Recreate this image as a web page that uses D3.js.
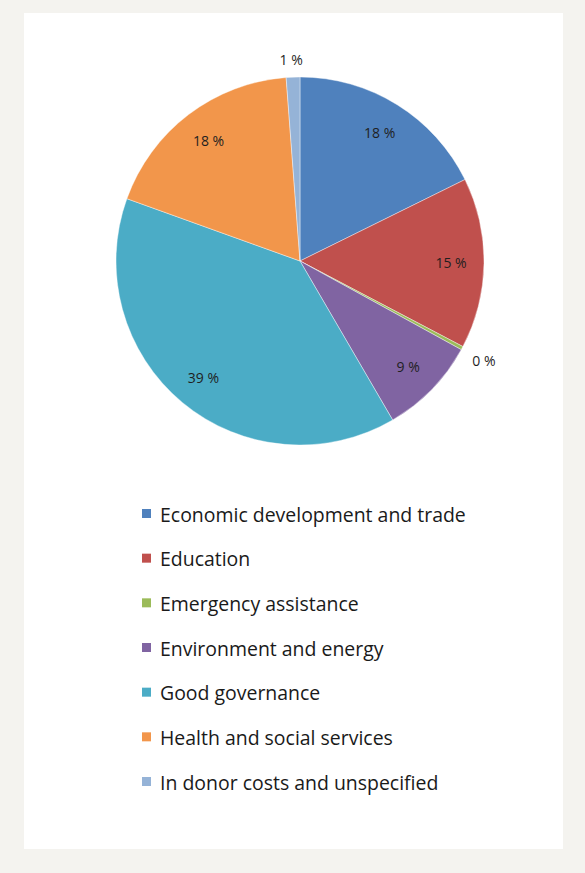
<!DOCTYPE html>
<html>
<head>
<meta charset="utf-8">
<script src="https://cdn.jsdelivr.net/npm/d3@7"></script>
<style>
  html, body { margin: 0; padding: 0; background: #f4f3ef; }
  svg { display: block; }
</style>
</head>
<body>
<svg id="chart" width="585" height="873"></svg>
<script>
// Share of funding by sector (percent)
const categories = [
  "Economic development and trade",
  "Education",
  "Emergency assistance",
  "Environment and energy",
  "Good governance",
  "Health and social services",
  "In donor costs and unspecified"
];
const shares = [17.7, 15.0, 0.3, 8.6, 38.9, 18.3, 1.2];
const colors = ["#4f81bd", "#c0504d", "#9bbb59", "#8064a2", "#4bacc6", "#f2964b", "#95b3d7"];
// Slices whose labels sit outside the pie
const outsideLabels = ["Emergency assistance", "In donor costs and unspecified"];

const svg = d3.select("#chart");

// white card
svg.append("rect")
  .attr("x", 24).attr("y", 13)
  .attr("width", 539).attr("height", 836)
  .attr("fill", "#ffffff");

const cx = 300, cy = 261, R = 184;
const data = categories.map((c, i) => ({ name: c, value: shares[i] }));
const color = d3.scaleOrdinal().domain(categories).range(colors);

const pie = d3.pie().sort(null).value(d => d.value);
const arcs = pie(data);
const arc = d3.arc().innerRadius(0).outerRadius(R);
const labelArc = d3.arc().innerRadius(151).outerRadius(151);

const g = svg.append("g").attr("transform", `translate(${cx},${cy})`);

g.selectAll("path.slice")
  .data(arcs)
  .join("path")
  .attr("class", "slice")
  .attr("d", arc)
  .attr("fill", d => color(d.data.name))
  .attr("stroke", "#ffffff")
  .attr("stroke-width", 0.4);

const fmt = v => Math.round(v) + " %";
const labelFont = "'Open Sans', 'DejaVu Sans', sans-serif";

// inside labels
g.selectAll("text.inside")
  .data(arcs.filter(d => !outsideLabels.includes(d.data.name)))
  .join("text")
  .attr("class", "inside")
  .attr("transform", d => `translate(${labelArc.centroid(d)})`)
  .attr("text-anchor", "middle")
  .attr("dominant-baseline", "central")
  .attr("font-family", labelFont)
  .attr("font-size", 14)
  .attr("fill", "#1f1f1f")
  .text(d => fmt(d.data.value));

// outside labels: nearest corner of the label box sits on the slice bisector
const clamp = v => Math.max(-1, Math.min(1, v));
g.selectAll("text.outside")
  .data(arcs.filter(d => outsideLabels.includes(d.data.name)))
  .join("text")
  .attr("class", "outside")
  .attr("transform", d => {
    const a = (d.startAngle + d.endAngle) / 2;
    const r = R + 10;
    const hw = 13, hh = 8;
    const x = Math.sin(a) * r + clamp(Math.sin(a) * 3) * hw;
    const y = -Math.cos(a) * r - clamp(Math.cos(a) * 3) * hh;
    return `translate(${x},${y})`;
  })
  .attr("text-anchor", "middle")
  .attr("dominant-baseline", "central")
  .attr("font-family", labelFont)
  .attr("font-size", 14)
  .attr("fill", "#1f1f1f")
  .text(d => fmt(d.data.value));

// legend
const legendFont = "'Open Sans', 'DejaVu Sans', sans-serif";
const rowY = d3.scalePoint().domain(categories).range([514, 782]);
const legend = svg.append("g");

const rows = legend.selectAll("g.row")
  .data(categories)
  .join("g")
  .attr("class", "row")
  .attr("transform", d => `translate(0,${rowY(d)})`);

rows.append("rect")
  .attr("x", 142).attr("y", -5)
  .attr("width", 9).attr("height", 9)
  .attr("fill", d => color(d));

const texts = rows.append("text")
  .attr("x", 160).attr("y", 0)
  .attr("dominant-baseline", "central")
  .attr("font-family", legendFont)
  .attr("font-size", 17)
  .attr("fill", "#1a1a1a")
  .text(d => d);

// size legend text so the longest entry spans the same width as the key column
let maxW = 0;
texts.each(function () { maxW = Math.max(maxW, this.getComputedTextLength()); });
if (maxW > 0) {
  const fs = 17 * 306 / maxW;
  texts.attr("font-size", Math.min(20, Math.max(14, fs)));
}
</script>
</body>
</html>
